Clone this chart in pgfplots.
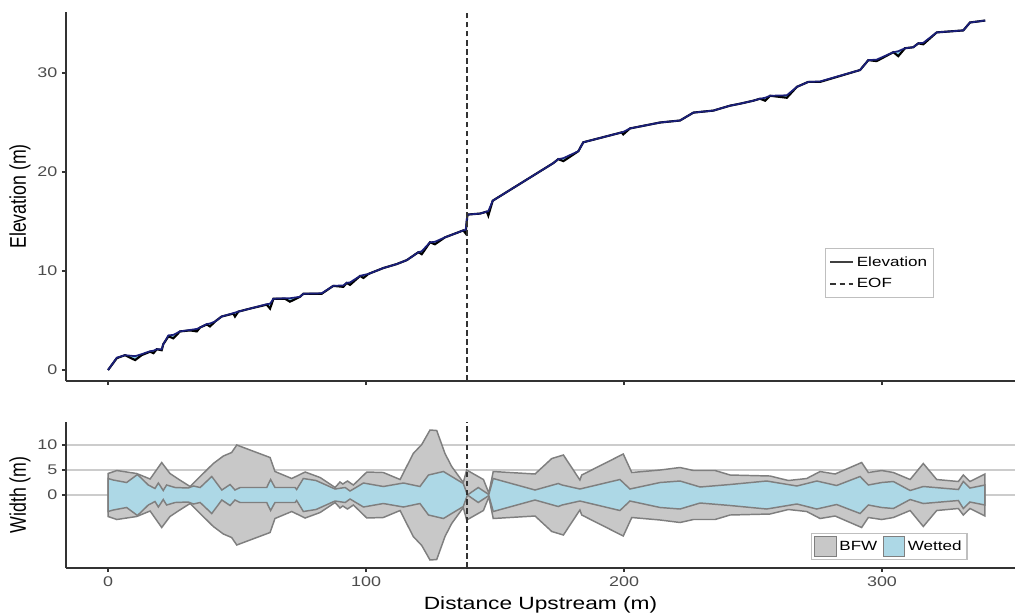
\documentclass[border=0pt]{standalone}
\usepackage{fontspec}
\setmainfont{Liberation Sans}[FakeStretch=1.28]
\newfontfamily\plainsans{Liberation Sans}
\usepackage{pgfplots}
\usepackage{pgfplotstable}
\pgfplotsset{compat=1.18}
\usepgfplotslibrary{fillbetween}

\definecolor{bfwgray}{HTML}{C8C8C8}
\definecolor{edgegray}{HTML}{7F7F7F}
\definecolor{wetblue}{HTML}{ADD8E6}
\definecolor{wsnavy}{HTML}{1A1F7A}
\definecolor{ribbon}{HTML}{8CD0E6}
\definecolor{axisgray}{HTML}{333333}

% longitudinal profile: bed (black) and water surface (navy)
\pgfplotstableread{
d bed ws
0 0.0 0.0
3.4 1.2 1.25
6.6 1.5 1.5
10.5 1.0 1.4
13 1.5 1.6
16.3 1.85 1.9
17.6 1.7 1.95
18.9 2.1 2.1
20.8 2.0 2.1
21.4 2.6 2.6
23.4 3.4 3.5
25.3 3.2 3.55
27.9 3.9 3.9
31.8 4.0 4.05
34.4 3.9 4.15
35.7 4.3 4.3
38.3 4.6 4.65
39.5 4.4 4.7
41.5 4.9 4.9
44 5.4 5.4
48.6 5.7 5.75
49.2 5.4 5.8
50.5 5.9 5.9
55 6.2 6.2
61.5 6.6 6.65
62.8 6.2 6.7
64.1 7.2 7.2
68.6 7.2 7.25
70.5 6.9 7.25
74.4 7.4 7.4
75.7 7.7 7.7
82.8 7.7 7.75
87.3 8.5 8.5
91.2 8.4 8.55
92.5 8.8 8.8
93.8 8.6 8.85
97.7 9.5 9.5
99 9.3 9.6
100.9 9.7 9.7
106.7 10.3 10.3
111.9 10.7 10.7
115.8 11.1 11.1
120.3 11.9 11.9
121.6 11.7 12.0
124.8 12.9 12.9
126.7 12.7 12.95
130.6 13.4 13.4
137.7 14.1 14.1
138.6 13.8 14.15
139.3 15.7 15.7
144.2 15.8 15.8
146.8 16.0 16.0
147.4 15.6 16.05
149.1 17.1 17.1
172.6 20.9 20.9
174.5 21.3 21.3
176.5 21.1 21.4
182.3 22.1 22.1
184.2 23.0 23.0
199.1 24.0 24.0
199.7 23.8 24.05
202.3 24.4 24.4
214 25.0 25.0
221.7 25.2 25.2
226.9 26.0 26.0
234.6 26.2 26.2
241.1 26.7 26.7
245 26.9 26.9
250.1 27.2 27.2
252.7 27.4 27.4
254.7 27.2 27.5
256.6 27.7 27.7
263.1 27.5 27.75
267 28.6 28.6
271.4 29.1 29.1
276 29.1 29.15
291.5 30.3 30.3
294.7 31.3 31.3
297.9 31.2 31.35
304.4 32.1 32.1
306.3 31.7 32.2
308.9 32.5 32.5
312.1 32.6 32.6
314.1 33.0 33.0
316 32.9 33.05
321.2 34.1 34.1
331.5 34.3 34.3
334.1 35.1 35.1
340 35.3 35.3
}\profile

% half widths (m)
\pgfplotstableread{
d w
0 4.3
3.4 4.9
11.1 4.3
16.3 3.2
20.8 6.5
24 4.3
27.2 3.2
31.8 1.7
35.7 3.7
40.8 6.3
44.7 7.8
47.9 8.5
49.9 10.0
62.8 7.5
64.7 4.7
71.2 3.3
76.4 4.6
82.2 3.5
88 1.5
89.9 2.6
91 2.2
92.8 2.8
95.1 2.0
100.3 4.6
106.7 4.5
113.2 3.1
118.3 8.3
121.6 10.1
124.8 13.0
127.4 12.9
130.6 8.3
133.2 5.7
137.7 2.5
139 5.0
145.5 3.1
147.6 0.4
149.3 4.7
165.5 4.2
172 7.3
176.5 8.0
182.9 3.0
183.6 4.0
199.7 8.2
203 4.5
214 5.0
221.7 5.5
226.9 4.9
235.3 4.9
241.1 4.0
256.6 3.8
263.7 2.9
270.8 3.3
276 4.7
281.8 4.2
292.1 6.5
294.7 4.5
299.9 4.9
304.4 4.5
310.9 3.1
316 6.3
321.2 3.1
329.6 2.7
331.5 4.0
334.1 2.7
339.9 4.2
}\bfw

\pgfplotstableread{
d w
0 3.3
2 3.0
7.2 2.5
11.4 4.1
15.6 2.0
18.2 1.3
19.5 2.4
21.4 0.9
22.7 2.0
26 1.5
31.1 1.4
33.1 1.8
35.7 1.5
40.2 3.7
44.1 1.0
47.3 2.1
49.2 1.0
51.2 1.5
61.5 1.5
63 3.1
64.7 1.5
72.5 1.5
73.1 1.1
75.7 3.3
80.6 2.9
88 1.2
91.9 1.5
93.8 0.8
99 2.4
106.7 1.7
114.5 2.4
120.9 1.7
124.2 4.0
130 4.7
137.7 2.3
139.3 0.0
143.5 1.5
147.6 0.1
149.3 3.3
165.5 1.0
174.5 2.3
176 2.0
182.9 1.2
198.4 3.1
202.3 1.2
214 2.5
221.7 2.8
229.5 1.6
241.1 2.1
255.3 2.8
267 1.8
274.7 2.8
282.4 1.9
291.5 3.7
294.7 2.0
299.9 2.5
304.4 2.7
310.9 0.9
316 1.7
329.6 1.1
331.5 2.7
334.1 1.4
339.9 2.0
}\wet

\pgfplotsset{
  panel/.style={
    scale only axis, width=711.75pt,
    xmin=-16.3, xmax=351.55,
    axis x line*=bottom, axis y line*=left,
    axis line style={-, axisgray, line width=1.2pt},
    tick align=outside, major tick length=3pt,
    tick style={axisgray, line width=1.1pt},
    xtick={0,100,200,300},
    tick label style={font=\fontsize{10.5}{12}\selectfont, text=black!70},
    /pgf/number format/assume math mode=true,
    every axis y label/.style={at={(axis description cs:-0.0485,0.5)}, rotate=90,
      anchor=center, font=\plainsans\fontsize{13.3}{15}\selectfont},
    every axis x label/.style={font=\fontsize{13.3}{15}\selectfont},
    legend style={draw=black!25, line width=0.9pt, font=\fontsize{10}{12}\selectfont,
      fill=white},
  },
  eof/.style={black!80, line width=1.4pt, dash pattern=on 4.2pt off 2.6pt},
}

\begin{document}
\begin{tikzpicture}
\begin{axis}[panel, name=top, at={(0,0)}, anchor=north west,
    height=276.75pt, ymin=-1.11, ymax=36.16, ytick={0,10,20,30},
    xticklabels={},
    ylabel={\scalebox{1}[1.28]{Elevation (m)}},
    legend style={at={(axis description cs:0.915,0.225)}, anchor=south east,
      row sep=3.5pt, inner xsep=3pt, inner ysep=4pt, legend cell align=left}]
  \addplot[name path=bed, draw=none, forget plot] table[x=d, y=bed]{\profile};
  \addplot[name path=ws, draw=none, forget plot] table[x=d, y=ws]{\profile};
  \addplot[fill=ribbon, draw=none, forget plot] fill between[of=bed and ws];
  \addplot[black, line width=1.6pt, forget plot] table[x=d, y=bed]{\profile};
  \addplot[wsnavy, line width=1.3pt, forget plot] table[x=d, y=ws]{\profile};
  \addplot[eof, forget plot] coordinates {(139,-1.11) (139,36.16)};
  \addlegendimage{black!75, line width=1.5pt}
  \addlegendentry{Elevation}
  \addlegendimage{eof}
  \addlegendentry{EOF}
\end{axis}

\begin{axis}[panel, at={(0,-307.5pt)}, anchor=north west,
    height=109.5pt, ymin=-14.6, ymax=14.6, ytick={0,5,10},
    ymajorgrids, grid style={black!20, line width=1.3pt},
    ylabel={\scalebox{1}[1.28]{Width (m)}},
    xlabel={Distance Upstream (m)},
    xlabel style={at={(axis description cs:0.5,-0.253)}, anchor=center},
    legend columns=2,
    legend style={at={(axis description cs:0.95,0.055)}, anchor=south east,
      inner xsep=2pt, inner ysep=1.5pt,
      /tikz/every even column/.append style={column sep=2pt}}]
  \addplot[name path=bu, draw=none, forget plot] table[x=d, y=w]{\bfw};
  \addplot[name path=bl, draw=none, forget plot] table[x=d, y expr=-\thisrow{w}]{\bfw};
  \addplot[fill=bfwgray, draw=edgegray, line width=1.1pt, forget plot] fill between[of=bu and bl];
  \addplot[name path=wu, draw=none, forget plot] table[x=d, y=w]{\wet};
  \addplot[name path=wl, draw=none, forget plot] table[x=d, y expr=-\thisrow{w}]{\wet};
  \addplot[fill=wetblue, draw=edgegray, line width=1.1pt, forget plot] fill between[of=wu and wl];
  \addplot[eof, forget plot] coordinates {(139,-14.6) (139,14.6)};
  \addlegendimage{legend image code/.code={\draw[fill=bfwgray, draw=edgegray, line width=0.9pt] (0pt,-7.7pt) rectangle (16pt,7.7pt);}}
  \addlegendentry{BFW}
  \addlegendimage{legend image code/.code={\draw[fill=wetblue, draw=edgegray, line width=0.9pt] (0pt,-7.7pt) rectangle (16pt,7.7pt);}}
  \addlegendentry{Wetted}
\end{axis}
\pgfresetboundingbox
\useasboundingbox (-49.5pt,9pt) rectangle (715.5pt,-452.25pt);
\end{tikzpicture}
\end{document}
